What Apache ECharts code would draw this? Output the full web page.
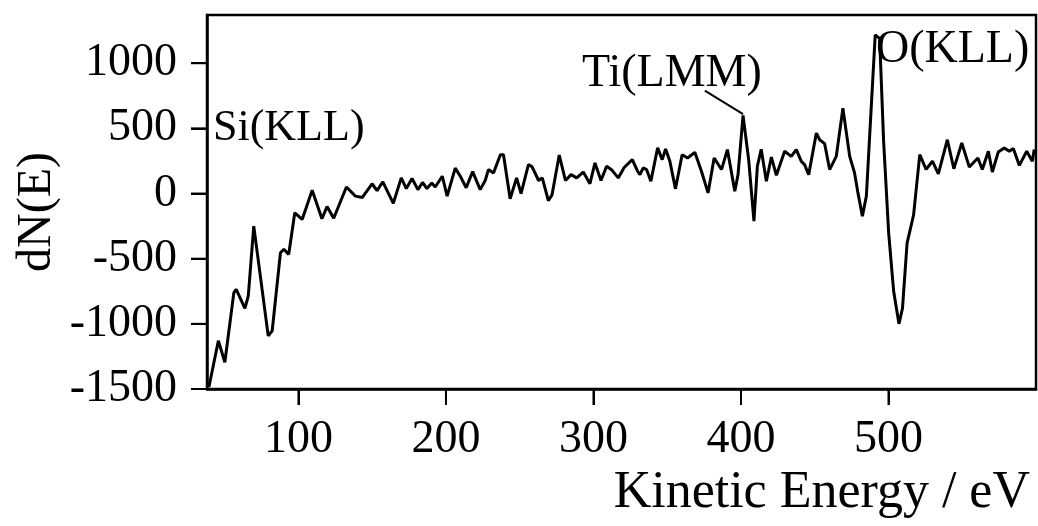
<!DOCTYPE html>
<html>
<head>
<meta charset="utf-8">
<script src="https://cdn.jsdelivr.net/npm/echarts@6/dist/echarts.min.js"></script>
<style>
  html, body { margin: 0; padding: 0; background: #fff; }
  #chart { width: 1038px; height: 526px; }
</style>
</head>
<body>
<div id="chart"></div>
<script>
// Kinetic energy (eV)
const energy = [39.3,45.7,50.1,56.2,57.8,63.7,66.0,69.7,79.5,82.2,87.8,90.1,93.4,97.5,102.5,109.3,115.9,119.4,123.9,132.5,138.6,143.3,149.9,153.3,157.2,164.3,169.7,173.1,177.0,181.0,184.1,187.1,190.4,192.7,197.5,200.8,206.3,209.6,213.7,218.1,223.2,226.6,228.8,232.2,236.9,239.0,243.5,247.9,250.9,255.9,258.4,262.8,265.3,269.4,271.9,276.8,281.0,284.8,288.6,293.1,297.6,301.0,305.1,308.9,312.5,316.8,320.8,326.3,329.9,331.5,333.7,336.0,338.9,343.5,346.6,348.9,351.8,355.6,360.1,363.8,368.7,373.2,377.7,381.8,386.8,390.8,395.8,398.0,401.4,405.2,408.8,411.1,413.7,417.2,420.6,424.0,429.6,434.1,437.5,440.9,443.1,445.9,451.1,453.3,456.7,460.1,464.6,469.1,473.7,477.0,479.3,482.3,485.0,491.0,494.0,496.7,500.1,503.5,507.1,509.5,512.6,517.0,521.2,525.5,529.8,533.8,539.9,544.3,549.7,554.8,560.6,563.6,567.7,570.4,574.4,578.5,581.9,584.6,588.7,593.7,597.5,598.8];
// dN(E)
const dNE = [-1485,-1130,-1295,-760,-735,-882,-786,-250,-1092,-1053,-454,-428,-467,-148,-199,25,-193,-100,-190,50,-20,-30,75,22,90,-75,120,38,115,30,85,38,80,50,133,-20,195,135,44,168,30,100,184,158,298,298,-40,120,0,222,205,100,120,-55,-10,295,100,145,120,165,75,235,100,209,180,120,200,260,171,145,197,184,94,350,260,342,247,36,298,273,316,171,5,273,184,337,18,145,600,260,-212,209,340,94,280,140,324,285,337,247,222,145,464,413,383,184,285,655,285,158,5,-174,-20,1217,1191,400,-300,-750,-1000,-880,-380,-165,298,185,248,150,413,190,388,203,272,184,324,165,318,350,324,345,216,324,248,337];

const xTicks = [100, 200, 300, 400, 500];
const yTicks = [-1500, -1000, -500, 0, 500, 1000];
const X_MIN = 38, X_MAX = 600, Y_MIN = -1500, Y_MAX = 1370;

// Annotations
const peakLabels = ['Si(KLL)', 'Ti(LMM)', 'O(KLL)'];
const tiLeader = [[375.5, 790], [401.4, 610]];

const FONT = '"Liberation Serif", "DejaVu Serif", serif';
const TICK_LEN = 16;

// tick marks as [axis, value]
const tickItems = xTicks.map(v => [0, v]).concat(yTicks.map(v => [1, v]));

const chart = echarts.init(document.getElementById('chart'), null, { renderer: 'canvas' });

chart.setOption({
  backgroundColor: '#ffffff',
  animation: false,
  grid: {
    left: 207, right: 2, top: 15, bottom: 137,
    show: true, borderColor: '#000', borderWidth: 2.5, backgroundColor: 'transparent'
  },
  xAxis: {
    type: 'value', min: X_MIN, max: X_MAX,
    axisLine: { show: true, onZero: false, lineStyle: { color: '#000', width: 2.5 } },
    axisTick: { show: true, length: TICK_LEN, inside: false, customValues: xTicks, lineStyle: { color: '#000', width: 2 } },
    axisLabel: { show: true, customValues: xTicks, margin: 28, color: '#000', fontFamily: FONT, fontSize: 46,
      formatter: v => String(v) },
    splitLine: { show: false }
  },
  yAxis: {
    type: 'value', min: Y_MIN, max: Y_MAX,
    axisLine: { show: true, onZero: false, lineStyle: { color: '#000', width: 2.5 } },
    axisTick: { show: true, length: TICK_LEN, inside: false, customValues: yTicks, lineStyle: { color: '#000', width: 2 } },
    axisLabel: { show: true, customValues: yTicks, margin: 30, color: '#000', fontFamily: FONT, fontSize: 46,
      formatter: v => String(v) },
    splitLine: { show: false }
  },
  series: [{
    type: 'line',
    data: energy.map((e, i) => [e, dNE[i]]),
    showSymbol: false,
    symbol: 'none',
    smooth: false,
    clip: true,
    lineStyle: { color: '#000', width: 3 },
    markLine: {
      silent: true,
      symbol: ['none', 'none'],
      label: { show: false },
      lineStyle: { color: '#000', width: 2, type: 'solid' },
      data: [[{ coord: tiLeader[0] }, { coord: tiLeader[1] }]]
    }
  }, {
    type: 'custom',
    silent: true,
    clip: false,
    z: 10,
    data: tickItems,
    renderItem: function (params, api) {
      const axis = api.value(0), v = api.value(1);
      if (axis === 0) {
        const p = api.coord([v, Y_MIN]);
        return { type: 'line', shape: { x1: p[0], y1: p[1], x2: p[0], y2: p[1] + TICK_LEN },
          style: { stroke: '#000', lineWidth: 2 } };
      }
      const p = api.coord([X_MIN, v]);
      return { type: 'line', shape: { x1: p[0] - TICK_LEN, y1: p[1], x2: p[0], y2: p[1] },
        style: { stroke: '#000', lineWidth: 2 } };
    },
    encode: { x: -1, y: -1 }
  }],
  graphic: [
    { type: 'text', left: 213, top: 106, style: { text: peakLabels[0], font: '44px ' + FONT, fill: '#000' } },
    { type: 'text', left: 582, top: 51, style: { text: peakLabels[1], font: '46px ' + FONT, fill: '#000' } },
    { type: 'text', left: 876, top: 27, style: { text: peakLabels[2], font: '46px ' + FONT, fill: '#000' } },
    { type: 'text', x: 37, y: 212, rotation: Math.PI / 2,
      style: { text: 'dN(E)', font: '48px ' + FONT, fill: '#000', align: 'center', verticalAlign: 'middle' } },
    { type: 'text', x: 1030, y: 493,
      style: { text: 'Kinetic Energy / eV', font: '52px ' + FONT, fill: '#000', align: 'right', verticalAlign: 'middle' } }
  ]
});
</script>
</body>
</html>
